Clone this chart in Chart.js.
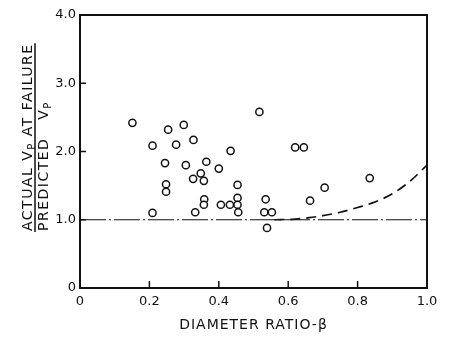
<!DOCTYPE html>
<html>
<head>
<meta charset="utf-8">
<script src="https://cdn.jsdelivr.net/npm/chart.js@4.4.1/dist/chart.umd.min.js"></script>
<style>
  html, body { margin: 0; padding: 0; background: #fff; }
  canvas { display: block; }
</style>
</head>
<body>
<canvas id="chart" width="450" height="337"></canvas>
<script>
// measured points: diameter ratio (beta) vs actual/predicted Vp
const betaValues = [
  0.151, 0.254, 0.299, 0.209, 0.277, 0.327, 0.517, 0.620, 0.645, 0.434,
  0.245, 0.305, 0.364, 0.400, 0.348, 0.326, 0.357, 0.248, 0.248, 0.454,
  0.358, 0.357, 0.406, 0.432, 0.454, 0.454, 0.456, 0.209, 0.332, 0.535,
  0.531, 0.553, 0.539, 0.705, 0.663, 0.835
];
const ratioValues = [
  2.42, 2.32, 2.39, 2.085, 2.10, 2.17, 2.58, 2.06, 2.06, 2.01,
  1.83, 1.80, 1.85, 1.75, 1.68, 1.60, 1.57, 1.52, 1.41, 1.51,
  1.30, 1.22, 1.22, 1.22, 1.32, 1.22, 1.11, 1.10, 1.11, 1.30,
  1.11, 1.11, 0.88, 1.47, 1.28, 1.61
];

// reference line at ratio = 1
const refBeta = [0, 1.0];
const refRatio = [1.0, 1.0];

// dashed trend curve
const curveBeta = [0.56, 0.62, 0.66, 0.70, 0.75, 0.80, 0.85, 0.90, 0.95, 1.0];
const curveRatio = [1.0, 1.01, 1.03, 1.06, 1.11, 1.18, 1.26, 1.38, 1.56, 1.80];

const xTicks = [0, 0.2, 0.4, 0.6, 0.8, 1.0];
const xTickLabels = ['0', '0.2', '0.4', '0.6', '0.8', '1.0'];
const yTicks = [0, 1, 2, 3, 4];
const yTickLabels = ['0', '1.0', '2.0', '3.0', '4.0'];

const INK = '#111';
const FONT = '"DejaVu Sans", sans-serif';

const toXY = (xs, ys) => xs.map((x, i) => ({ x, y: ys[i] }));

// box, inner ticks and axis titles
const framePlugin = {
  id: 'frame',
  afterDraw(chart) {
    const { ctx, chartArea: a, scales } = chart;
    ctx.save();
    ctx.strokeStyle = INK;
    ctx.lineWidth = 2;
    ctx.strokeRect(a.left, a.top, a.right - a.left, a.bottom - a.top);

    ctx.lineWidth = 1.5;
    ctx.beginPath();
    xTicks.slice(1, -1).forEach(v => {
      const px = scales.x.getPixelForValue(v);
      ctx.moveTo(px, a.bottom);
      ctx.lineTo(px, a.bottom - 7);
    });
    yTicks.slice(1, -1).forEach(v => {
      const py = scales.y.getPixelForValue(v);
      ctx.moveTo(a.left, py);
      ctx.lineTo(a.left + 6, py);
    });
    ctx.stroke();

    ctx.fillStyle = INK;
    // x title
    ctx.font = '14px ' + FONT;
    ctx.letterSpacing = '1px';
    ctx.textAlign = 'center';
    ctx.textBaseline = 'alphabetic';
    ctx.fillText('DIAMETER RATIO-\u03B2', (a.left + a.right) / 2, 329);

    // y title as a fraction, rotated
    ctx.translate(0, 231);
    ctx.rotate(-Math.PI / 2);
    ctx.textAlign = 'left';
    ctx.letterSpacing = '1.5px';
    const drawSub = (parts, base) => {
      let u = 0;
      parts.forEach(([txt, sub]) => {
        ctx.font = (sub ? '10px ' : '14px ') + FONT;
        ctx.fillText(txt, u, base + (sub ? 3 : 0));
        u += ctx.measureText(txt).width;
      });
      return u;
    };
    const w = drawSub([['ACTUAL V', false], ['P', true], [' AT FAILURE', false]], 32);
    drawSub([['PREDICTED   V', false], ['P', true]], 48);
    ctx.lineWidth = 1.5;
    ctx.beginPath();
    ctx.moveTo(-1, 35);
    ctx.lineTo(w, 35);
    ctx.stroke();
    ctx.restore();
  }
};

new Chart(document.getElementById('chart'), {
  type: 'scatter',
  data: {
    datasets: [
      {
        label: 'tests',
        data: toXY(betaValues, ratioValues),
        pointRadius: 3.6,
        pointBorderWidth: 1.5,
        pointBorderColor: INK,
        pointBackgroundColor: '#fff',
        order: 0
      },
      {
        type: 'line',
        label: 'ref',
        data: toXY(refBeta, refRatio),
        borderColor: INK,
        borderWidth: 1.1,
        borderDash: [26, 3, 2, 3],
        pointRadius: 0,
        order: 1
      },
      {
        type: 'line',
        label: 'curve',
        data: toXY(curveBeta, curveRatio),
        borderColor: INK,
        borderWidth: 1.7,
        borderDash: [10, 6],
        cubicInterpolationMode: 'monotone',
        pointRadius: 0,
        order: 1
      }
    ]
  },
  options: {
    responsive: false,
    devicePixelRatio: 1,
    animation: false,
    layout: { padding: { top: 15, right: 23, left: 0, bottom: 0 } },
    plugins: { legend: { display: false }, tooltip: { enabled: false } },
    scales: {
      x: {
        type: 'linear',
        min: 0,
        max: 1,
        afterBuildTicks: s => { s.ticks = xTicks.map(v => ({ value: v })); },
        afterFit: s => { s.height = 49; },
        grid: { display: false, drawTicks: false },
        border: { display: false },
        ticks: {
          color: INK,
          padding: 6,
          maxRotation: 0,
          font: { family: FONT, size: 13 },
          callback: (v, i) => xTickLabels[i]
        }
      },
      y: {
        min: 0,
        max: 4,
        afterBuildTicks: s => { s.ticks = yTicks.map(v => ({ value: v })); },
        afterFit: s => { s.width = 80; },
        grid: { display: false, drawTicks: false },
        border: { display: false },
        ticks: {
          color: INK,
          padding: 4,
          font: { family: FONT, size: 13 },
          callback: (v, i) => yTickLabels[i]
        }
      }
    }
  },
  plugins: [framePlugin]
});
</script>
</body>
</html>
